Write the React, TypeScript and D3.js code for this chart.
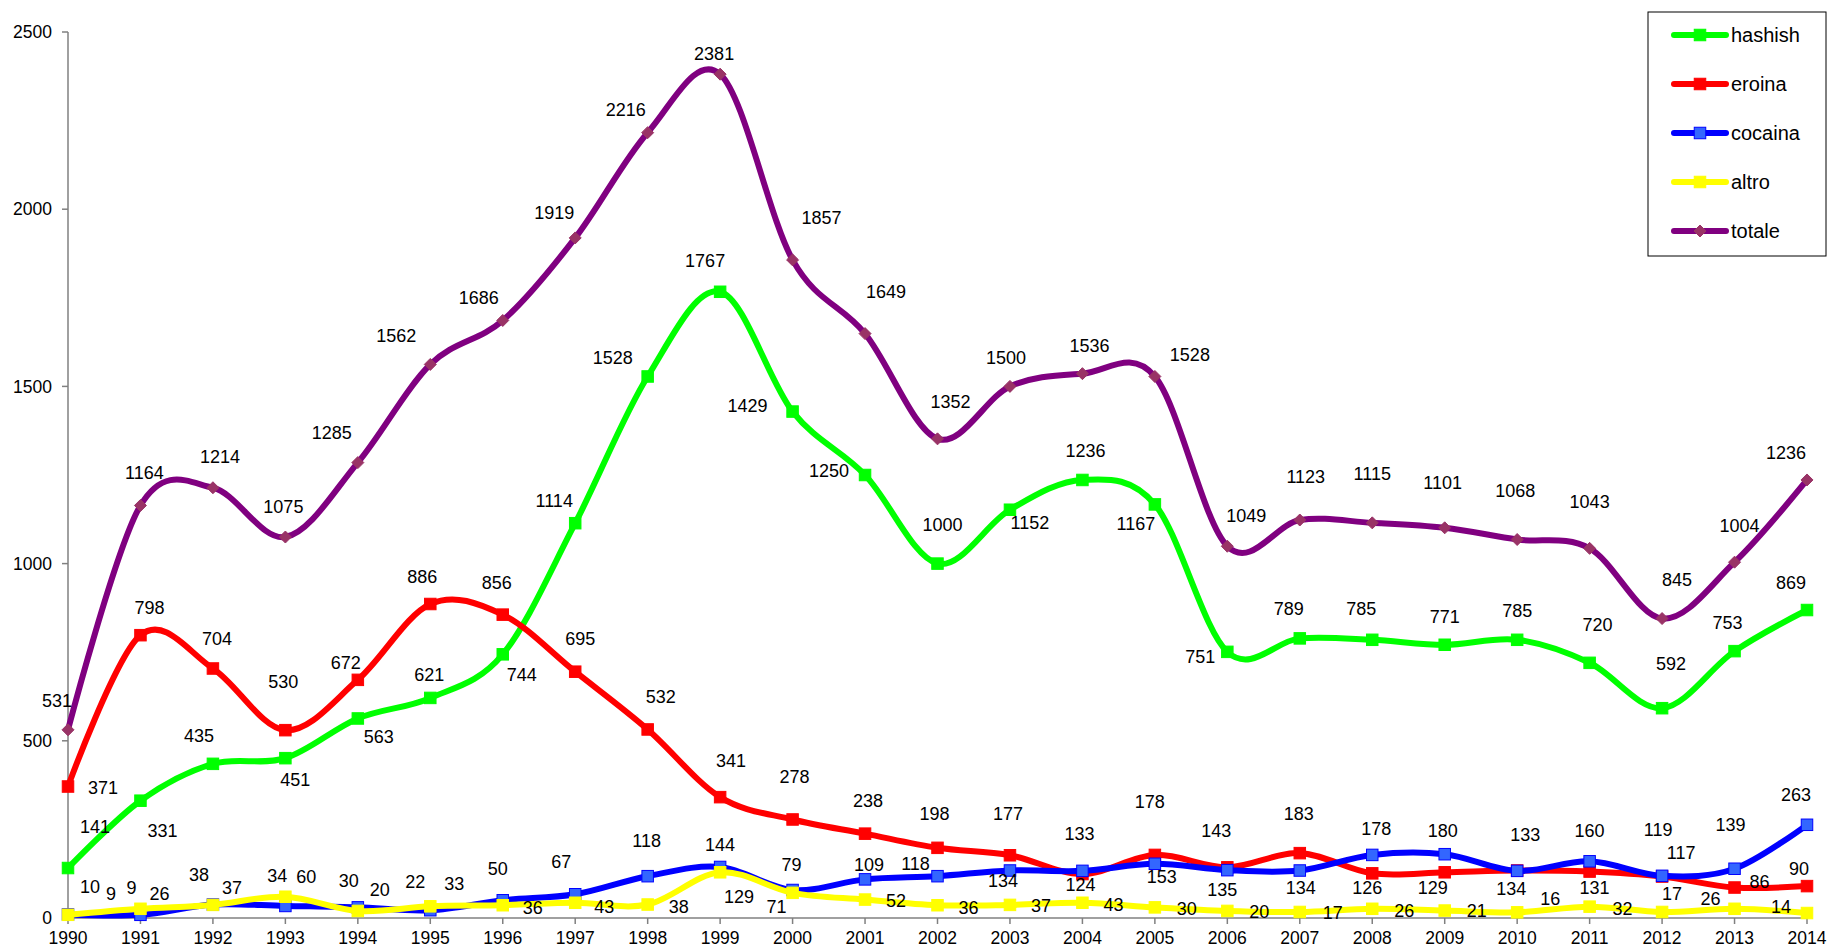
import React from "react";
import * as d3 from "d3";

const years = [1990,1991,1992,1993,1994,1995,1996,1997,1998,1999,2000,2001,2002,2003,2004,2005,2006,2007,2008,2009,2010,2011,2012,2013,2014];
const yTicks = [0,500,1000,1500,2000,2500];

const hashish = [141,331,435,451,563,621,744,1114,1528,1767,1429,1250,1000,1152,1236,1167,751,789,785,771,785,720,592,753,869];
const eroina = [371,798,704,530,672,886,856,695,532,341,278,238,198,177,124,178,143,183,126,129,134,131,117,86,90];
const cocaina = [10,9,38,34,30,22,50,67,118,144,79,109,118,134,133,153,135,134,178,180,133,160,119,139,263];
const altro = [9,26,37,60,20,33,36,43,38,129,71,52,36,37,43,30,20,17,26,21,16,32,17,26,14];
const totale = [531,1164,1214,1075,1285,1562,1686,1919,2216,2381,1857,1649,1352,1500,1536,1528,1049,1123,1115,1101,1068,1043,845,1004,1236];

// label offsets (px) relative to each point
const hashishLbl = [[27,-41],[22,30],[-14,-28],[10,22],[21,18],[-1,-23],[19,20],[-21,-22],[-35,-19],[-15,-31],[-45,-6],[-36,-4],[5,-39],[20,13],[3,-29],[-19,19],[-27,5],[-11,-30],[-11,-31],[0,-28],[0,-29],[8,-38],[9,-44],[-7,-28],[-16,-27]];
const eroinaLbl = [[35,1],[9,-27],[4,-30],[-2,-48],[-12,-17],[-8,-27],[-6,-32],[5,-33],[13,-33],[11,-36],[2,-43],[3,-33],[-3,-34],[-2,-42],[-2,11],[-5,-53],[-11,-37],[-1,-39],[-5,14],[-12,15],[-6,18],[5,16],[19,-24],[25,-6],[-8,-17]];
const cocainaLbl = [[22,-28],[-9,-27],[-14,-30],[-8,-30],[-9,-27],[-15,-29],[-5,-32],[-14,-33],[-1,-35],[0,-22],[-1,-25],[4,-15],[-22,-12],[-7,10],[-3,-37],[7,13],[-5,20],[1,17],[4,-26],[-2,-24],[8,-36],[0,-31],[-4,-46],[-4,-44],[-11,-30]];
const altroLbl = [[43,-21],[19,-15],[19,-17],[21,-20],[22,-21],[24,-23],[30,2],[29,4],[31,2],[19,24],[-16,14],[31,1],[31,2],[31,1],[31,2],[32,1],[32,1],[33,1],[32,2],[32,0],[33,-14],[33,2],[10,-18],[-24,-10],[-26,-6]];
const totaleLbl = [[-11,-29],[4,-33],[7,-31],[-2,-30],[-26,-30],[-34,-29],[-24,-23],[-21,-25],[-22,-23],[-6,-20],[29,-42],[21,-42],[13,-37],[-4,-29],[7,-28],[35,-22],[19,-31],[6,-43],[0,-49],[-2,-45],[-2,-49],[0,-47],[15,-39],[5,-36],[-21,-27]];

type Series = { name: string; values: number[]; lbl: number[][]; color: string; mFill: string; mStroke: string; marker: "square" | "diamond" };

const series: Series[] = [
  { name: "hashish", values: hashish, lbl: hashishLbl, color: "#00FF00", mFill: "#00FF00", mStroke: "#00FF00", marker: "square" },
  { name: "eroina", values: eroina, lbl: eroinaLbl, color: "#FF0000", mFill: "#FF0000", mStroke: "#FF0000", marker: "square" },
  { name: "cocaina", values: cocaina, lbl: cocainaLbl, color: "#0000FF", mFill: "#3366FF", mStroke: "#0000FF", marker: "square" },
  { name: "altro", values: altro, lbl: altroLbl, color: "#FFFF00", mFill: "#FFFF00", mStroke: "#FFFF00", marker: "square" },
  { name: "totale", values: totale, lbl: totaleLbl, color: "#800080", mFill: "#993366", mStroke: "#993366", marker: "diamond" },
];

const FONT = "'Liberation Sans', Arial, sans-serif";

function Marker({ x, y, s }: { x: number; y: number; s: Series }) {
  if (s.marker === "diamond") {
    const r = 6;
    return <path d={`M${x},${y - r}L${x + r},${y}L${x},${y + r}L${x - r},${y}Z`} fill={s.mFill} stroke={s.mStroke} strokeWidth={1} />;
  }
  const h = 5.75;
  return <rect x={x - h} y={y - h} width={2 * h} height={2 * h} fill={s.mFill} stroke={s.mStroke} strokeWidth={1} />;
}

export default function App() {
  const W = 1832, H = 950;
  const x = d3.scaleLinear().domain([1990, 2014]).range([68, 1807]);
  const y = d3.scaleLinear().domain([0, 2500]).range([918, 32]);
  const line = d3.line<number>().x((_, i) => x(years[i])).y((v) => y(v)).curve(d3.curveCardinal.tension(0));

  const legendY = [35, 84, 133, 182, 231];

  return (
    <svg width={W} height={H} style={{ position: "absolute", left: 0, top: 0, background: "#fff" }} fontFamily={FONT}>
      <rect x={0} y={0} width={W} height={H} fill="#fff" />
      {/* axes */}
      <line x1={68} y1={y(2500)} x2={68} y2={y(0)} stroke="#808080" strokeWidth={1.5} />
      <line x1={68} y1={y(0)} x2={x(2014)} y2={y(0)} stroke="#808080" strokeWidth={1.5} />
      {yTicks.map((t) => (
        <g key={t}>
          <line x1={62} x2={68} y1={y(t)} y2={y(t)} stroke="#808080" strokeWidth={1.5} />
          <text x={52} y={y(t)} dy="0.35em" textAnchor="end" fontSize={17.5} fill="#000">{t}</text>
        </g>
      ))}
      {years.map((yr) => (
        <g key={yr}>
          <line x1={x(yr)} x2={x(yr)} y1={y(0)} y2={y(0) + 6} stroke="#808080" strokeWidth={1.5} />
          <text x={x(yr)} y={938} dy="0.35em" textAnchor="middle" fontSize={17.5} fill="#000">{yr}</text>
        </g>
      ))}
      {/* series lines and markers */}
      {series.map((s) => (
        <g key={s.name}>
          <path d={line(s.values) || ""} fill="none" stroke={s.color} strokeWidth={6} strokeLinejoin="round" strokeLinecap="round" />
          {s.values.map((v, i) => (
            <Marker key={i} x={x(years[i])} y={y(v)} s={s} />
          ))}
        </g>
      ))}
      {/* data labels */}
      {series.map((s) => (
        <g key={s.name + "-lbl"}>
          {s.values.map((v, i) => (
            <text key={i} x={x(years[i]) + s.lbl[i][0]} y={y(v) + s.lbl[i][1]} dy="0.35em" textAnchor="middle" fontSize={18} fill="#000">{v}</text>
          ))}
        </g>
      ))}
      {/* legend */}
      <rect x={1648} y={12} width={178} height={244} fill="#fff" stroke="#000" strokeWidth={1} />
      {series.map((s, i) => (
        <g key={s.name + "-leg"}>
          <line x1={1674} x2={1726} y1={legendY[i]} y2={legendY[i]} stroke={s.color} strokeWidth={6} strokeLinecap="round" />
          <Marker x={1700} y={legendY[i]} s={s} />
          <text x={1731} y={legendY[i]} dy="0.35em" fontSize={20} fill="#000">{s.name}</text>
        </g>
      ))}
    </svg>
  );
}
